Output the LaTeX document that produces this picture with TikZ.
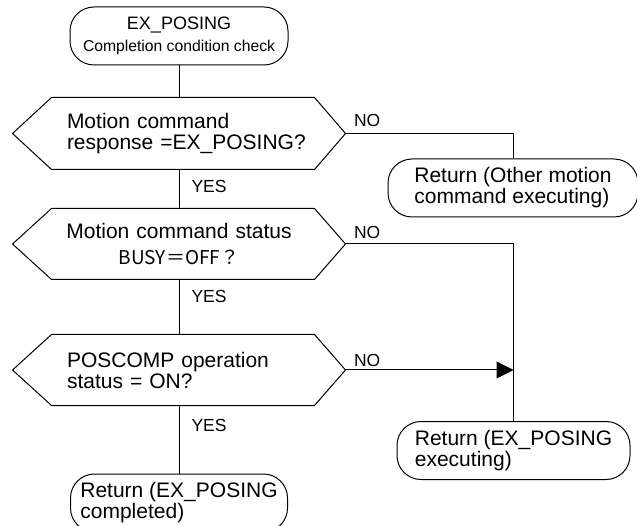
\documentclass[tikz,border=0pt]{standalone}
\usepackage{fontspec}
\setmainfont{Liberation Sans}
\newfontfamily\cjkfont{Noto Sans CJK JP}
\usetikzlibrary{arrows.meta, positioning}

\begin{document}
\begin{tikzpicture}[
    x=1pt, y=1pt,
    line width=1pt,
    terminal/.style={
        rectangle,
        draw=black,
        rounded corners=24pt,
        align=center,
        minimum width=218pt,
        minimum height=58pt,
        inner sep=0pt,
        font=\fontsize{18}{20}\selectfont
    },
    ret/.style={
        rectangle,
        draw=black,
        rounded corners=24pt,
        align=left,
        minimum height=58pt,
        inner sep=0pt,
        font=\fontsize{21}{21}\selectfont
    },
    decision/.style={
        rectangle,
        align=left,
        minimum width=332pt,
        text width=224pt,
        inner sep=0pt,
        font=\fontsize{21}{21}\selectfont
    },
    lbl/.style={inner sep=0pt, font=\fontsize{17.5}{17.5}\selectfont},
    arrow/.style={-{Triangle[length=17pt, width=17pt]}}
]
\useasboundingbox (0,0) rectangle (637,-526);

\node (start) [terminal] at (179,-36) {EX\_POSING\\[2pt]{\fontsize{15.7}{18}\selectfont Completion condition check}};
\node (q1) [decision, minimum height=71pt, below=32pt of start] {Motion command\\response~=EX\_POSING?};
\node (q2) [decision, align=center, text width=240pt, minimum height=70pt, below=39pt of q1] {Motion~command~status\\[5pt]{\cjkfont\fontsize{19}{21}\selectfont BUSY＝OFF？}};
\node (q3) [decision, minimum height=70pt, below=55pt of q2] {POSCOMP operation\\status = ON?};
\node (done) [ret, minimum width=217pt, below=68pt of q3] {Return (EX\_POSING\\completed)};
\node (r1) [ret, minimum width=250pt, below right=25pt and 42pt of q1.east] {Return (Other motion\\command executing)};
\node (r2) [ret, minimum width=233pt, below right=51pt and 51pt of q3.east] {Return (EX\_POSING\\executing)};

% hexagon outlines
\foreach \q in {q1,q2,q3}
    \draw (\q.west) -- ([xshift=39pt]\q.north west) -- ([xshift=-31pt]\q.north east)
        -- (\q.east) -- ([xshift=-31pt]\q.south east) -- ([xshift=39pt]\q.south west) -- cycle;

\draw (start) -- (q1);
\draw (q1.south) node [lbl, below right=10pt and 12pt] {YES} -- (q2.north);
\draw (q2.south) node [lbl, below right=10pt and 12pt] {YES} -- (q3.north);
\draw (q3.south) node [lbl, below right=13pt and 12pt] {YES} -- (done.north);

\draw (q1.east) node [lbl, above right=6pt and 8pt] {NO} -| (r1.north);
\draw (q2.east) node [lbl, above right=5pt and 8pt] {NO} -| (r2.north);
\draw [arrow] (q3.east) node [lbl, above right=3pt and 8pt] {NO} -- (q3.east -| r2.north);

\end{tikzpicture}
\end{document}
